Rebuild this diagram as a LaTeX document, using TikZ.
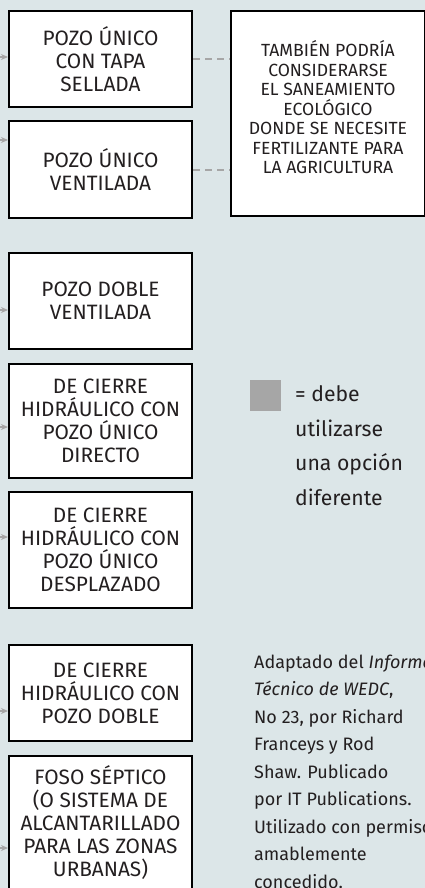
\documentclass[tikz,border=0pt]{standalone}
\usepackage{fontspec}
\setmainfont{Fira Sans}
\usepackage{tikz}
\usetikzlibrary{positioning, arrows.meta}
\definecolor{bgblue}{RGB}{220,230,232}
\definecolor{ink}{RGB}{35,31,32}
\definecolor{stubgray}{RGB}{166,166,166}
\tikzset{
  latrine/.style={draw=black, line width=2pt, fill=white, text=ink, align=center,
    minimum width=183pt, inner sep=0pt, font=\fontsize{20.8}{23}\selectfont},
  feed/.style={draw=stubgray, line width=1.2pt, -{Stealth[length=7pt,width=6pt]}},
  alt/.style={draw=stubgray, line width=2pt, dash pattern=on 7pt off 5pt},
  note/.style={anchor=north west, inner sep=0pt, align=left, text=ink},
}

\begin{document}
\begin{tikzpicture}[x=1pt, y=-1pt]
\useasboundingbox[fill=bgblue] (0,0) rectangle (425,888);
\node(p1)[latrine, anchor=north west, minimum height=96pt] at (8,10){POZO ÚNICO\\CON TAPA\\SELLADA};
\node(p2)[latrine, minimum height=97pt, below = 12pt of p1]{POZO ÚNICO\\VENTILADA};
\node(p3)[latrine, minimum height=96pt, below = 33pt of p2]{POZO DOBLE\\VENTILADA};
\node(p4)[latrine, minimum height=114pt, below = 13pt of p3]{DE CIERRE\\HIDRÁULICO CON\\POZO ÚNICO\\DIRECTO};
\node(p5)[latrine, minimum height=116pt, below = 12pt of p4]{DE CIERRE\\HIDRÁULICO CON\\POZO ÚNICO\\DESPLAZADO};
\node(p6)[latrine, minimum height=96pt, below = 35pt of p5]{DE CIERRE\\HIDRÁULICO CON\\POZO DOBLE};
\node(p7)[latrine, minimum height=170pt, below = 13pt of p6]{FOSO SÉPTICO\\(O SISTEMA DE\\ALCANTARILLADO\\PARA LAS ZONAS\\URBANAS)\\[17pt]\mbox{}};
\node(tb)[latrine, anchor=north west, minimum width=194pt, minimum height=205pt,
  font=\fontsize{17.6}{19.5}\selectfont] at (230,10){TAMBIÉN PODRÍA\\CONSIDERARSE\\EL SANEAMIENTO\\ECOLÓGICO\\DONDE SE NECESITE\\FERTILIZANTE PARA\\LA AGRICULTURA\\[-7pt]\mbox{}};
% legend
\node(sq)[fill=stubgray, minimum size=31pt, inner sep=0pt, anchor=north west] at (250,380){};
\node(key)[note, font=\fontsize{21.2}{34.5}\selectfont] at (295,385.5){= debe\\utilizarse\\una opción\\diferente};
% source
\node(src)[note, font=\fontsize{18}{27.5}\selectfont] at (254,654.5){Adaptado del \textit{Informe}\\\textit{Técnico de WEDC},\\No 23, por Richard\\Franceys y Rod\\Shaw. Publicado\\por IT Publications.\\Utilizado con permiso\\amablemente\\concedido.};
% stubs coming in from the left
\coordinate(a1) at (-10,57);
\coordinate(a2) at (-10,140);
\coordinate(a3) at (-10,310);
\coordinate(a4) at (-10,427);
\coordinate(a5) at (-10,537);
\coordinate(a6) at (-10,711);
\coordinate(a7) at (-10,848);
\draw[feed] (a1) -- (p1.west |- a1);
\draw[feed] (a2) -- (p2.west |- a2);
\draw[feed] (a3) -- (p3.west |- a3);
\draw[feed] (a4) -- (p4.west |- a4);
\draw[feed] (a5) -- (p5.west |- a5);
\draw[feed] (a6) -- (p6.west |- a6);
\draw[feed] (a7) -- (p7.west |- a7);
\draw[alt] (p1.east) -- (p1.east -| tb.west);
\draw[alt] (p2.east) -- (p2.east -| tb.west);
\end{tikzpicture}
\end{document}
